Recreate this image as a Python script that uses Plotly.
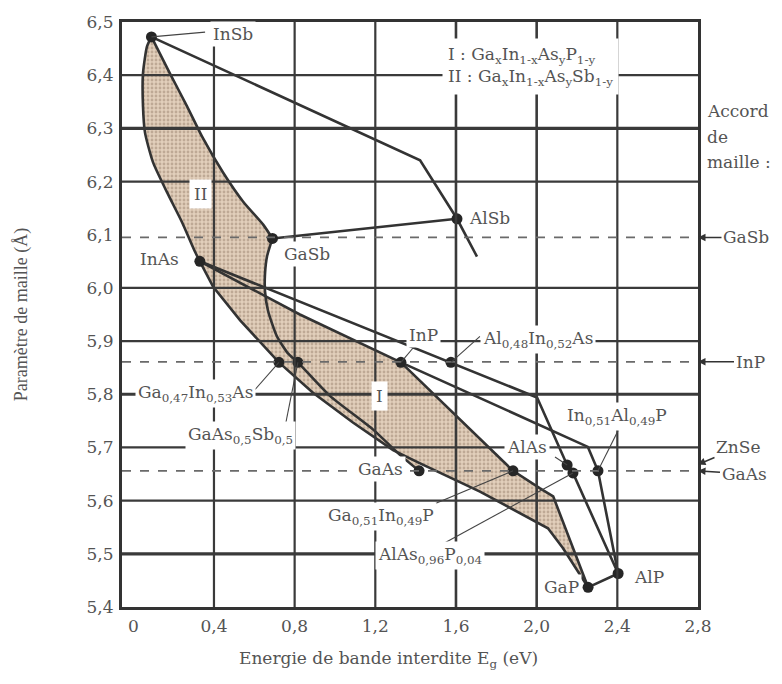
import plotly.graph_objects as go

# compounds: band gap Eg (eV) and lattice parameter a (Å)
point_eg = [0.09, 0.33, 0.69, 1.605, 1.327, 1.575, 0.722, 0.816, 1.417, 1.883, 2.151, 2.180, 2.304, 2.255, 2.404]
point_a = [6.472, 6.050, 6.093, 6.130, 5.860, 5.860, 5.860, 5.860, 5.656, 5.656, 5.667, 5.652, 5.656, 5.437, 5.463]

# boundary curves of the two quaternary domains
insb_inas_eg = [0.09, 0.068, 0.048, 0.048, 0.058, 0.098, 0.167, 0.241, 0.306, 0.33]
insb_inas_a = [6.472, 6.454, 6.403, 6.342, 6.292, 6.236, 6.180, 6.124, 6.068, 6.050]
insb_gasb_eg = [0.09, 0.182, 0.266, 0.346, 0.445, 0.545, 0.644, 0.69]
insb_gasb_a = [6.472, 6.403, 6.342, 6.281, 6.217, 6.162, 6.119, 6.093]
gasb_gaas_eg = [0.69, 0.663, 0.653, 0.653, 0.668, 0.712, 0.767, 0.816, 0.975, 1.188, 1.322, 1.417]
gasb_gaas_a = [6.093, 6.059, 6.026, 5.994, 5.957, 5.909, 5.877, 5.860, 5.797, 5.734, 5.686, 5.656]
inas_gap_eg = [0.33, 0.396, 0.530, 0.722, 0.891, 1.089, 1.288, 1.417, 1.719, 2.056, 2.130, 2.255]
inas_gap_a = [6.050, 6.002, 5.939, 5.860, 5.803, 5.747, 5.695, 5.671, 5.617, 5.548, 5.511, 5.437]
inas_inp_eg = [0.33, 0.826, 1.327]
inas_inp_a = [6.050, 5.950, 5.860]
inp_gap_eg = [1.327, 1.883, 2.017, 2.082, 2.255]
inp_gap_a = [5.860, 5.656, 5.623, 5.608, 5.437]

# ternary lines
insb_alsb_eg = [0.09, 1.422, 1.605, 1.704]
insb_alsb_a = [6.472, 6.240, 6.130, 6.059]
gasb_alsb_eg = [0.69, 1.605]
gasb_alsb_a = [6.093, 6.130]
inas_alas_eg = [0.33, 1.575, 2.002, 2.151]
inas_alas_a = [6.050, 5.860, 5.794, 5.667]
alas_alp_eg = [2.151, 2.180, 2.404]
alas_alp_a = [5.667, 5.652, 5.463]
inp_alp_eg = [1.327, 2.254, 2.304, 2.404]
inp_alp_a = [5.860, 5.701, 5.656, 5.463]
gap_alp_eg = [2.255, 2.404]
gap_alp_a = [5.437, 5.463]

# lattice matching substrates
match_a = [6.095, 5.861, 5.656]
arrow_names = ["GaSb", "InP", "ZnSe", "GaAs"]
arrow_a = [6.095, 5.861, 5.668, 5.656]

x_ticks = [0, 0.4, 0.8, 1.2, 1.6, 2.0, 2.4, 2.8]
x_labels = ["0", "0,4", "0,8", "1,2", "1,6", "2,0", "2,4", "2,8"]
y_ticks = [5.4, 5.5, 5.6, 5.7, 5.8, 5.9, 6.0, 6.1, 6.2, 6.3, 6.4, 6.5]
y_labels = ["5,4", "5,5", "5,6", "5,7", "5,8", "5,9", "6,0", "6,1", "6,2", "6,3", "6,4", "6,5"]

# the scanned figure is stretched sideways, so the wider DejaVu Serif fits horizontal text better
FONT = "'DejaVu Serif', 'Liberation Serif', serif"
FONT_NARROW = "'Liberation Serif', 'DejaVu Serif', serif"
TEXT = "#545454"
INK = "#333333"
GRID = "#3a3a3a"
X_MIN, X_MAX = -0.056, 2.8

fig = go.Figure()

# shaded domains I and II
region_ii_eg = insb_inas_eg + inas_gap_eg[1:8] + gasb_gaas_eg[::-1] + insb_gasb_eg[::-1][1:]
region_ii_a = insb_inas_a + inas_gap_a[1:8] + gasb_gaas_a[::-1] + insb_gasb_a[::-1][1:]
region_i_eg = inas_inp_eg + inp_gap_eg[1:] + inas_gap_eg[::-1][1:]
region_i_a = inas_inp_a + inp_gap_a[1:] + inas_gap_a[::-1][1:]
for rx, ry in [(region_ii_eg, region_ii_a), (region_i_eg, region_i_a)]:
    fig.add_trace(go.Scatter(
        x=rx, y=ry, mode="lines", fill="toself", fillcolor="#dcc8b2",
        fillpattern=dict(shape=".", fgcolor="#9a8470", bgcolor="#e2cfbb", size=4, solidity=0.4),
        line=dict(width=0), hoverinfo="skip", showlegend=False))

curves = [
    (insb_inas_eg, insb_inas_a, "spline"), (insb_gasb_eg, insb_gasb_a, "spline"),
    (gasb_gaas_eg, gasb_gaas_a, "spline"), (inas_gap_eg, inas_gap_a, "linear"),
    (inas_inp_eg, inas_inp_a, "linear"), (inp_gap_eg, inp_gap_a, "linear"),
    (insb_alsb_eg, insb_alsb_a, "linear"), (gasb_alsb_eg, gasb_alsb_a, "linear"),
    (inas_alas_eg, inas_alas_a, "linear"), (alas_alp_eg, alas_alp_a, "linear"),
    (inp_alp_eg, inp_alp_a, "linear"), (gap_alp_eg, gap_alp_a, "linear"),
]
for cx, cy, shape in curves:
    fig.add_trace(go.Scatter(x=cx, y=cy, mode="lines",
                             line=dict(color=INK, width=2.6, shape=shape, smoothing=0.6),
                             hoverinfo="skip", showlegend=False))

fig.add_trace(go.Scatter(x=point_eg, y=point_a, mode="markers",
                         marker=dict(size=11, color="#262626"), hoverinfo="skip", showlegend=False))

# grid (drawn over the shading, like the original)
shapes = []
for v in [0.4, 0.8, 1.2, 1.6, 2.0, 2.4]:
    shapes.append(dict(type="line", xref="x", yref="y", x0=v, x1=v, y0=5.4, y1=6.5,
                       line=dict(color=GRID, width=2.6 if v in (1.6, 2.0) else 2.2), layer="above"))
for h in [6.4, 6.3, 6.2, 6.0, 5.9, 5.8, 5.7, 5.6, 5.5]:
    shapes.append(dict(type="line", xref="x", yref="y", x0=X_MIN, x1=X_MAX, y0=h, y1=h,
                       line=dict(color=GRID, width=3.2 if h in (6.3, 5.8, 5.5) else 2.2), layer="above"))
for m in match_a:
    shapes.append(dict(type="line", xref="x", yref="y", x0=X_MIN, x1=X_MAX, y0=m, y1=m,
                       line=dict(color="#6a6a6a", width=1.6, dash="dash"), layer="above"))

# leader lines from labels to points
leaders = [
    (0.09, 6.472, 0.356, 6.481), (0.722, 5.860, 0.604, 5.809), (0.816, 5.860, 0.752, 5.738),
    (1.327, 5.860, 1.387, 5.887), (1.575, 5.860, 1.719, 5.909), (2.151, 5.667, 2.091, 5.682),
    (2.304, 5.656, 2.404, 5.732), (1.883, 5.656, 1.406, 5.580), (2.180, 5.652, 1.536, 5.519),
]
for x0, y0, x1, y1 in leaders:
    shapes.append(dict(type="line", xref="x", yref="y", x0=x0, y0=y0, x1=x1, y1=y1,
                       line=dict(color="#444", width=1.1), layer="above"))
fig.update_layout(shapes=shapes)

labels = [
    ("InSb", 0.495, 6.478, "center"), ("II", 0.333, 6.177, "center"), ("GaSb", 0.861, 6.063, "center"),
    ("InAs", 0.132, 6.054, "center"), ("AlSb", 1.764, 6.132, "center"), ("InP", 1.441, 5.911, "center"),
    ("Al<sub>0,48</sub>In<sub>0,52</sub>As", 1.718, 5.903, "left"), ("I", 1.223, 5.796, "center"),
    ("Ga<sub>0,47</sub>In<sub>0,53</sub>As", 0.010, 5.801, "left"),
    ("GaAs<sub>0,5</sub>Sb<sub>0,5</sub>", 0.258, 5.722, "left"),
    ("In<sub>0,51</sub>Al<sub>0,49</sub>P", 2.136, 5.759, "left"), ("AlAs", 1.952, 5.701, "center"),
    ("GaAs", 1.228, 5.660, "center"), ("Ga<sub>0,51</sub>In<sub>0,49</sub>P", 0.950, 5.570, "left"),
    ("AlAs<sub>0,96</sub>P<sub>0,04</sub>", 1.200, 5.496, "left"), ("GaP", 2.121, 5.437, "center"),
    ("AlP", 2.557, 5.457, "center"),
]
annotations = []
for text, x, y, anchor in labels:
    big = text in ("I", "II")
    annotations.append(dict(text=text, x=x, y=y, xref="x", yref="y", xanchor=anchor, yanchor="middle",
                            showarrow=False, bgcolor="white", borderpad=4 if big else 2,
                            font=dict(family=FONT, size=17, color=TEXT)))

annotations.append(dict(
    text="I : Ga<sub>x</sub>In<sub>1-x</sub>As<sub>y</sub>P<sub>1-y</sub><br>"
         "II : Ga<sub>x</sub>In<sub>1-x</sub>As<sub>y</sub>Sb<sub>1-y</sub>",
    x=1.53, y=6.416, xref="x", yref="y", xanchor="left", yanchor="middle", align="left",
    showarrow=False, bgcolor="white", borderpad=5, font=dict(family=FONT, size=17, color=TEXT)))

# lattice matching arrows on the right
arrow_offsets = [(48, 0), (52, 0), (40, -17), (46, 3)]
for name, a, (ax, ay) in zip(arrow_names, arrow_a, arrow_offsets):
    annotations.append(dict(text=name, x=1, y=a, xref="paper", yref="y", ax=ax, ay=ay,
                            showarrow=True, arrowhead=2, arrowsize=1, arrowwidth=1.5, arrowcolor="#333",
                            standoff=0, font=dict(family=FONT, size=17, color=TEXT)))
for text, y in [("Accord", 6.333), ("de", 6.283), ("maille :", 6.236)]:
    annotations.append(dict(text=text, x=1.012, y=y, xref="paper", yref="y", xanchor="left",
                            yanchor="middle", showarrow=False, font=dict(family=FONT, size=17, color=TEXT)))

annotations.append(dict(text="Paramètre de maille (Å)", x=-0.174, y=0.5, xref="paper", yref="paper",
                        xanchor="center", yanchor="middle", textangle=-90, showarrow=False,
                        font=dict(family=FONT_NARROW, size=18, color=TEXT)))
annotations.append(dict(text="Energie de bande interdite E<sub>g</sub> (eV)", x=0.462, y=-0.09,
                        xref="paper", yref="paper", xanchor="center", yanchor="middle", showarrow=False,
                        font=dict(family=FONT, size=17, color=TEXT)))

fig.update_layout(
    annotations=annotations,
    width=782, height=684,
    margin=dict(l=122, r=84, t=15, b=77),
    paper_bgcolor="white", plot_bgcolor="white",
    showlegend=False,
    xaxis=dict(range=[X_MIN, X_MAX], tickvals=x_ticks, ticktext=x_labels, showgrid=False, zeroline=False,
               showline=True, mirror=True, linecolor=INK, linewidth=3, ticks="", ticklabelstandoff=2,
               tickfont=dict(family=FONT, size=17, color=TEXT)),
    yaxis=dict(range=[5.4, 6.5], tickvals=y_ticks, ticktext=y_labels, showgrid=False, zeroline=False,
               showline=True, mirror=True, linecolor=INK, linewidth=3, ticks="", ticklabelstandoff=2,
               tickfont=dict(family=FONT, size=17, color=TEXT)),
)

fig.write_html("out.html", config={"displayModeBar": False},
               post_script="document.body.style.margin='0';")
